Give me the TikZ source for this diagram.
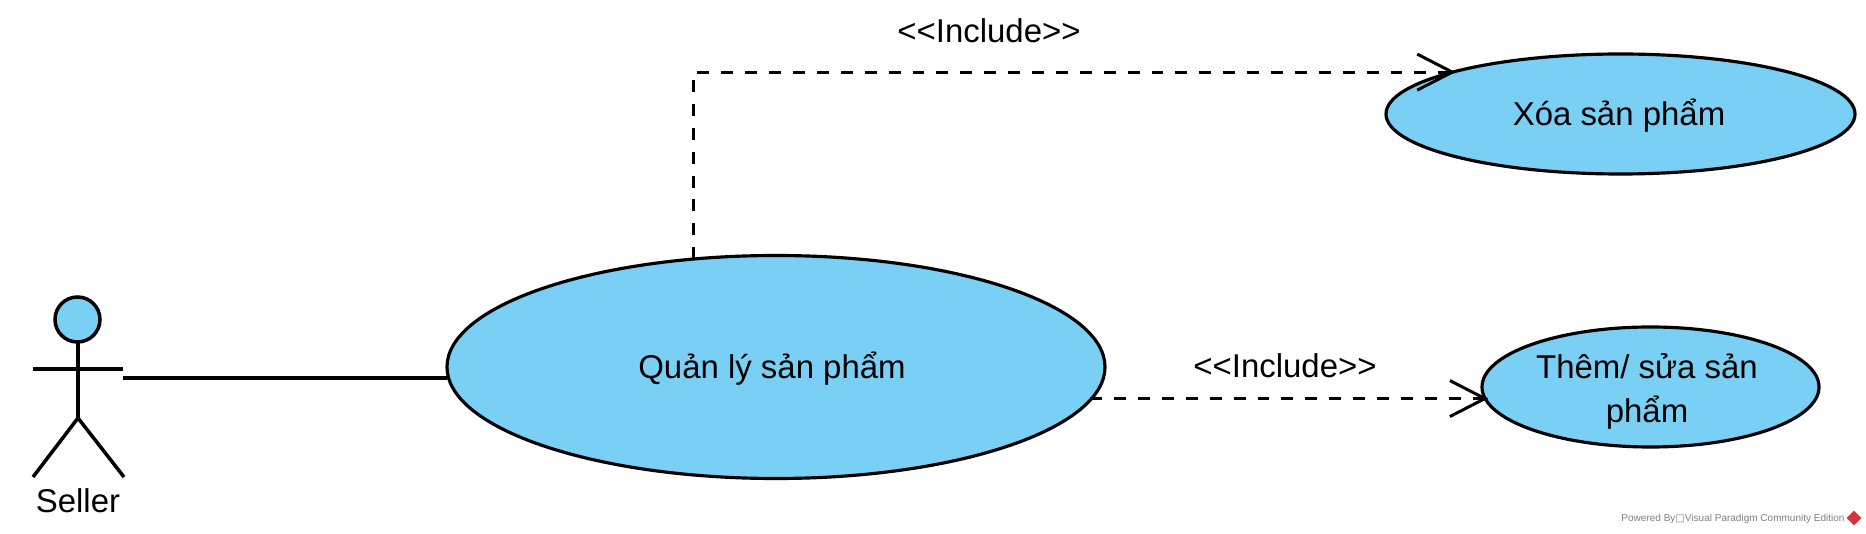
\documentclass[tikz,border=0pt]{standalone}
\usepackage{fontspec}
\setmainfont{Liberation Sans}
\newfontfamily\symbfont{DejaVu Sans}
\usetikzlibrary{shapes.geometric, arrows.meta}
\definecolor{ucblue}{HTML}{7ACFF5}
\definecolor{vpred}{HTML}{D8343C}
\tikzset{
    usecase/.style={draw, line width=1.8pt, ellipse, fill=ucblue, inner sep=0pt, outer sep=0pt, align=center, font=\fontsize{18.75}{25.5}\selectfont, text depth=0pt},
    stick/.style={line width=2pt},
    include/.style={line width=1.7pt, dash pattern=on 6.8pt off 6.8pt, -{Straight Barb[length=7mm, width=7.2mm, sep=-1.7pt]}},
    lbl/.style={font=\fontsize{18.75}{25.5}\selectfont, anchor=base},
}

\begin{document}
\begin{tikzpicture}
    \useasboundingbox (0, 0) rectangle (37.32, 10.68);
    % use cases
    \node[usecase, minimum width=13.16cm, minimum height=4.46cm, text height=13.6pt] (main) at (15.52, 3.34) {Quản lý sản phẩm\kern.16cm};
    \node[usecase, minimum width=9.38cm, minimum height=2.4cm, text height=13.6pt] (xoa) at (32.41, 8.40) {Xóa sản phẩm\kern.06cm};
    \node[usecase, minimum width=6.74cm, minimum height=2.4cm, text height=40.8pt] (them) at (33.01, 2.94) {Thêm/ sửa sản\kern.14cm\\phẩm\kern.14cm};
    % actor
    \node[stick, draw, circle, fill=ucblue, minimum size=0.9cm, inner sep=0pt, outer sep=0pt] (head) at (1.55, 4.29) {};
    \coordinate (hip) at (1.56, 2.32);
    \coordinate (armL) at (0.66, 3.30);
    \coordinate (armR) at (2.46, 3.30);
    \coordinate (legL) at (0.66, 1.14);
    \coordinate (legR) at (2.48, 1.14);
    \coordinate (hand) at (2.46, 3.12);
    \draw[stick] (head.south -| hip) -- (hip);
    \draw[stick] (armL) -- (armR);
    \draw[stick] (legL) -- (hip) -- (legR);
    \node[lbl] (seller) at (1.56, 0.42) {Seller};
    % connectors
    \draw[stick] (hand) -- (hand -| main.west);
    \draw[include] ([xshift=0.03cm]main.128) |- (xoa.166);
    \draw[include] (them.184 -| main.-6) -- (them.184);
    \node[lbl] (inclA) at (19.78, 9.82) {{<}{<}Include{>}{>}};
    \node[lbl] (inclB) at (25.70, 3.12) {{<}{<}Include{>}{>}};
    % footer
    \node[font=\fontsize{5.7}{7}\selectfont, text=gray] (powered) at (34.66, 0.31) {Powered By{\symbfont □}Visual Paradigm Community Edition};
    \node[diamond, fill=vpred, minimum size=0.3cm, inner sep=0pt] (logo) at (37.08, 0.32) {};
\end{tikzpicture}
\end{document}
